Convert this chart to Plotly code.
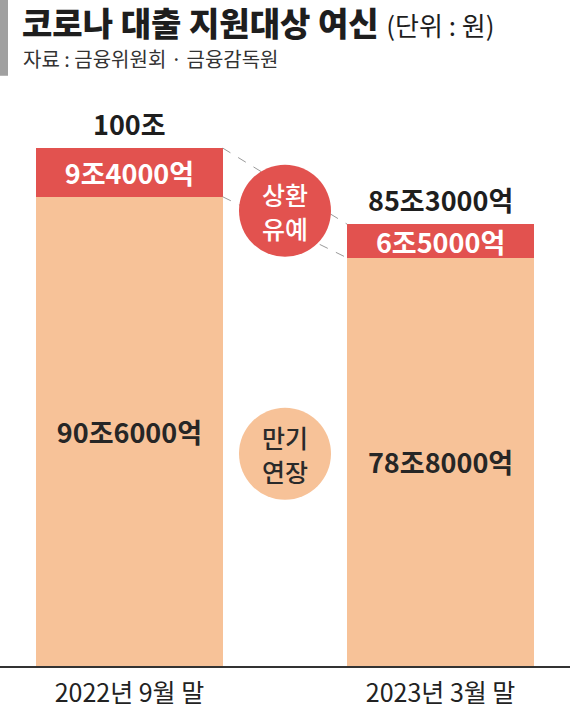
import plotly.graph_objects as go

# ---------------- data (조원) ----------------
periods = ["2022년 9월 말", "2023년 3월 말"]
extended = [90.6, 78.8]          # 만기연장
deferred = [9.4, 6.5]            # 상환유예
extended_labels = ["90조6000억", "78조8000억"]
deferred_labels = ["9조4000억", "6조5000억"]
total_labels = ["100조", "85조3000억"]

title_main = "코로나 대출 지원대상 여신"
title_unit = "(단위 : 원)"
source_text = "자료 : 금융위원회 · 금융감독원"
circle_deferred = ["상환", "유예"]
circle_extended = ["만기", "연장"]

# ---------------- style ----------------
FONT = "Noto Sans CJK KR, Noto Sans, sans-serif"
RED = "#E2524F"
PEACH = "#F7C298"
DARK = "#1E1E1E"
W, H = 570, 709
MB = 41
PLOT_H = H - MB
BAR_W = 0.6
Y_TOP = 128.6
VAL_SIZE = 27


def py(px):
    """pixel from top -> paper y"""
    return 1 - px / PLOT_H


xs = list(range(len(periods)))
totals = [a + b for a, b in zip(extended, deferred)]

fig = go.Figure()
fig.add_trace(go.Bar(
    x=xs, y=extended, width=BAR_W, marker=dict(color=PEACH, line=dict(width=0)),
    text=extended_labels, textposition="inside", insidetextanchor="middle",
    textangle=0, textfont=dict(family=FONT, size=VAL_SIZE, color="#262626", weight=600),
    hoverinfo="skip", name="만기연장",
))
fig.add_trace(go.Bar(
    x=xs, y=deferred, width=BAR_W, marker=dict(color=RED, line=dict(width=0)),
    text=deferred_labels, textposition="inside", insidetextanchor="middle",
    textangle=0, textfont=dict(family=FONT, size=VAL_SIZE, color="white", weight=700),
    hoverinfo="skip", name="상환유예",
))

annotations = []
for x, t, lab in zip(xs, totals, total_labels):
    annotations.append(dict(
        x=x, y=t, xref="x", yref="y", text=lab, showarrow=False,
        yanchor="middle", yshift=25,
        font=dict(family=FONT, size=VAL_SIZE, color=DARK, weight=700),
    ))

shapes = []
# dashed connectors between bar corners
for left_v, right_v in [(totals[0], totals[1]), (extended[0], extended[1])]:
    shapes.append(dict(
        type="line", xref="x", yref="y",
        x0=xs[0] + BAR_W / 2, y0=left_v, x1=xs[1] - BAR_W / 2, y1=right_v,
        line=dict(color="#9A9A9A", width=1, dash="dash"),
    ))

# circles (pixel sized, anchored between the bars)
mid_x = (xs[0] + xs[1]) / 2
R = 46
for cy, col in [(87.9, RED), (41.0, PEACH)]:
    shapes.append(dict(
        type="circle", xref="x", yref="y", xsizemode="pixel", ysizemode="pixel",
        xanchor=mid_x, yanchor=cy, x0=-R, x1=R, y0=-R, y1=R,
        fillcolor=col, line=dict(width=0), layer="above",
    ))

for lines, cy, col in [(circle_deferred, 87.9, "white"), (circle_extended, 41.0, "#2A2A2A")]:
    for i, ln in enumerate(lines):
        annotations.append(dict(
            x=mid_x, y=cy, xref="x", yref="y", text=ln, showarrow=False,
            yanchor="middle", yshift=17 - 34 * i,
            font=dict(family=FONT, size=25, color=col, weight=500),
        ))

# title block
shapes.append(dict(type="rect", xref="paper", yref="paper",
                   x0=0, x1=8 / W, y0=py(76), y1=1,
                   fillcolor="#A0A0A0", line=dict(width=0)))
annotations.append(dict(
    x=21 / W, y=py(22), xref="paper", yref="paper", xanchor="left", yanchor="middle",
    showarrow=False, borderpad=0,
    text=f"{title_main} <span style='font-size:26px;font-weight:400'>{title_unit}</span>",
    font=dict(family=FONT, size=33, color=DARK, weight=900),
))
annotations.append(dict(
    x=21 / W, y=py(59), xref="paper", yref="paper", xanchor="left", yanchor="middle",
    showarrow=False, text=source_text,
    font=dict(family=FONT, size=20, color="#333333"),
))

fig.update_layout(
    width=W, height=H, autosize=False,
    margin=dict(l=0, r=0, t=0, b=MB, pad=0),
    barmode="stack", bargap=0, showlegend=False,
    plot_bgcolor="white", paper_bgcolor="white",
    uniformtext=dict(minsize=VAL_SIZE, mode="show"),
    annotations=annotations, shapes=shapes,
    xaxis=dict(
        tickvals=xs, ticktext=periods, range=[-0.416, 1.416],
        showline=True, linecolor="#333333", linewidth=1.5, ticks="",
        showgrid=False, zeroline=False, fixedrange=True,
        ticklabelstandoff=4,
        tickfont=dict(family=FONT, size=25, color="#222222"),
    ),
    yaxis=dict(range=[0, Y_TOP], visible=False, fixedrange=True),
)

fig.write_html(
    "out.html",
    config={"displayModeBar": False, "staticPlot": True},
    post_script="document.body.style.margin='0';document.body.style.overflow='hidden';",
)
